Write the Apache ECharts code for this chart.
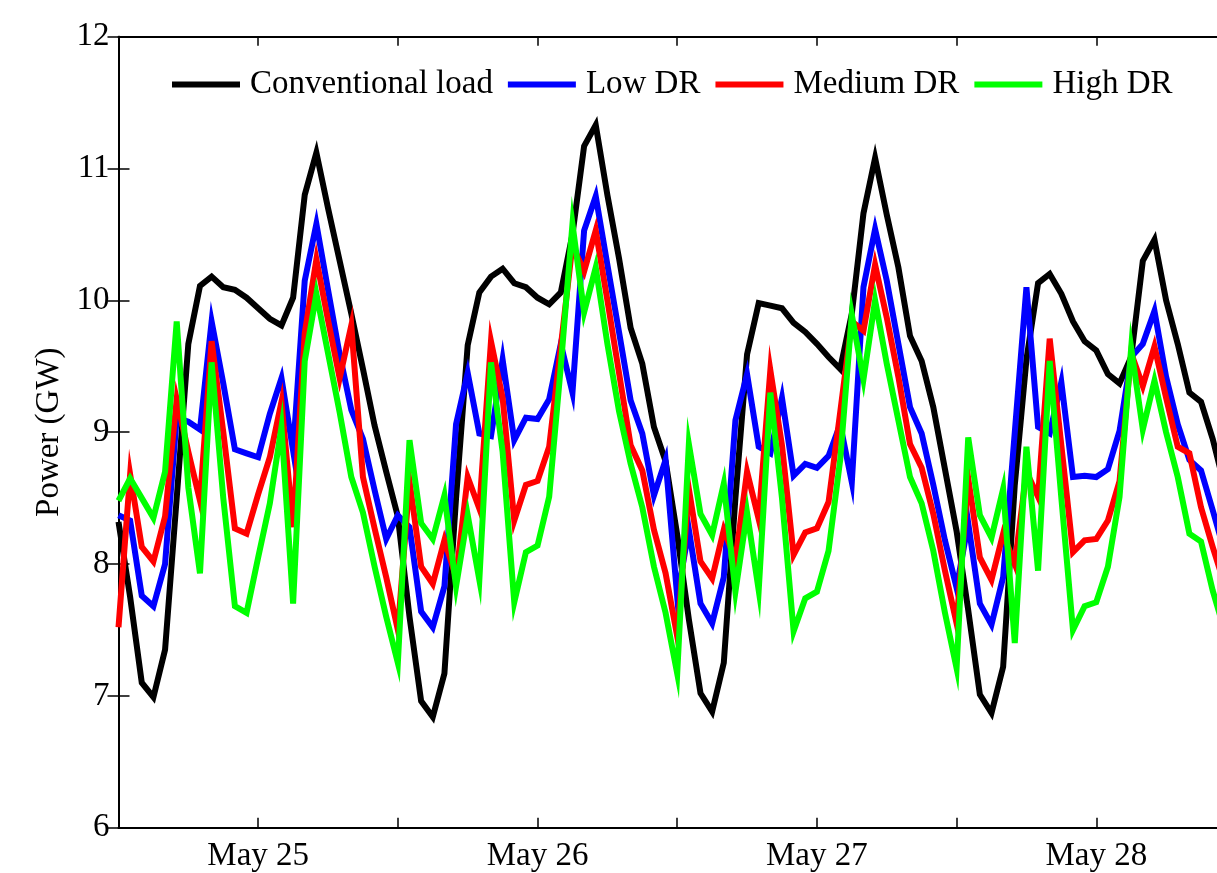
<!DOCTYPE html>
<html>
<head>
<meta charset="utf-8">
<script src="https://cdn.jsdelivr.net/npm/echarts@6/dist/echarts.min.js"></script>
<style>
html,body{margin:0;padding:0;background:#fff;overflow:hidden;width:1217px;height:873px;}
#chart{position:absolute;left:0;top:0;width:1240px;height:873px;}
</style>
</head>
<body>
<div id="chart"></div>
<script>
// Hourly values starting May 24 12:00 (hour 0) to May 28 11:00 (hour 95)
const conventional = [
  8.32,7.75,7.10,6.99,7.35,8.50,9.67,10.11,10.18,10.10,10.08,10.02,9.94,9.86,9.81,10.02,10.80,11.12,10.70,10.30,9.90,9.48,9.05,8.70,
  8.36,7.60,6.96,6.84,7.17,8.50,9.66,10.06,10.18,10.24,10.13,10.10,10.02,9.97,10.06,10.50,11.17,11.33,10.80,10.32,9.79,9.52,9.04,8.78,
  8.22,7.58,7.02,6.88,7.25,8.50,9.59,9.98,9.96,9.94,9.83,9.76,9.67,9.57,9.48,9.90,10.66,11.08,10.65,10.25,9.73,9.54,9.19,8.72,
  8.25,7.65,7.01,6.87,7.22,8.60,9.55,10.13,10.20,10.05,9.84,9.69,9.62,9.44,9.37,9.57,10.30,10.46,10.00,9.67,9.30,9.23,8.95,8.60
];
const lowDR = [
  8.37,8.33,7.76,7.68,8.00,9.11,9.08,9.02,9.84,9.37,8.87,8.84,8.81,9.14,9.41,8.86,10.15,10.58,10.08,9.59,9.17,8.95,8.56,8.19,
  8.37,8.28,7.64,7.52,7.83,9.06,9.45,8.99,8.97,9.55,8.94,9.11,9.10,9.25,9.67,9.30,10.53,10.79,10.27,9.76,9.24,8.99,8.52,8.79,
  7.75,8.26,7.70,7.55,7.90,9.09,9.44,8.89,8.84,9.26,8.67,8.76,8.73,8.82,9.06,8.62,10.10,10.54,10.15,9.67,9.19,8.99,8.60,8.18,
  7.82,8.31,7.70,7.54,7.90,9.00,10.10,9.04,8.99,9.38,8.66,8.67,8.66,8.72,9.01,9.57,9.67,9.92,9.42,9.06,8.79,8.71,8.41,8.10
];
const mediumDR = [
  7.52,8.68,8.13,8.02,8.36,9.25,8.85,8.48,9.69,9.00,8.27,8.23,8.53,8.81,9.23,8.28,9.75,10.31,9.85,9.41,9.81,8.66,8.27,7.90,
  7.50,8.63,7.98,7.85,8.18,7.90,8.66,8.42,9.69,9.26,8.33,8.60,8.63,8.89,9.65,10.42,10.22,10.53,10.00,9.45,8.90,8.71,8.26,7.93,
  7.45,8.57,8.02,7.89,8.26,8.03,8.70,8.34,9.47,8.90,8.07,8.24,8.27,8.47,9.15,9.84,9.77,10.27,9.87,9.42,8.91,8.73,8.38,7.95,
  7.55,8.65,8.05,7.88,8.23,8.00,8.70,8.51,9.71,8.90,8.09,8.18,8.19,8.33,8.63,9.60,9.35,9.65,9.26,8.89,8.84,8.43,8.13,7.85
];
const highDR = [
  8.48,8.65,8.50,8.35,8.70,9.84,8.58,7.93,9.53,8.50,7.68,7.63,8.05,8.46,9.04,7.70,9.54,10.05,9.60,9.15,8.66,8.39,7.98,7.60,
  7.25,8.94,8.31,8.19,8.52,7.83,8.37,7.88,9.53,8.85,7.71,8.09,8.14,8.51,9.50,10.58,9.91,10.25,9.67,9.16,8.76,8.43,7.98,7.63,
  7.17,8.91,8.38,8.22,8.61,7.79,8.39,7.80,9.30,8.50,7.49,7.74,7.79,8.10,8.79,9.89,9.40,10.00,9.52,9.09,8.66,8.46,8.10,7.63,
  7.21,8.96,8.37,8.20,8.57,7.40,8.89,7.95,9.54,8.50,7.50,7.68,7.71,7.98,8.51,9.64,9.02,9.39,9.00,8.66,8.23,8.17,7.80,7.50
];
const seriesNames = ['Conventional load','Low DR','Medium DR','High DR'];
const seriesColors = ['#000000','#0000ff','#ff0000','#00ff00'];
const labelHours = [12,36,60,84];
const labelTexts = ['May 25','May 26','May 27','May 28'];

const FONT = 'Liberation Serif, Times New Roman, serif';
const toPairs = arr => arr.map((v,i)=>[i,v]);
const allData = [conventional, lowDR, mediumDR, highDR];

const chart = echarts.init(document.getElementById('chart'), null, {renderer:'canvas'});
const axisLine = {show:true, lineStyle:{color:'#000', width:2}};
const xLabelFmt = v => { const k = labelHours.indexOf(v); return k >= 0 ? labelTexts[k] : ''; };

chart.setOption({
  animation:false,
  backgroundColor:'#fff',
  grid:{left:118.5, right:15.7, top:36.7, bottom:45.3, containLabel:false},
  legend:{
    left:172, top:68, padding:0, itemGap:15, itemWidth:68, itemHeight:6,
    icon:'rect',
    textStyle:{fontSize:33, fontFamily:FONT, color:'#000', padding:[0,0,0,5]},
    data:seriesNames
  },
  xAxis:[{
    type:'value', min:0, max:95, interval:12, position:'bottom',
    axisLine:axisLine,
    axisTick:{show:true, inside:true, length:10, lineStyle:{color:'#000', width:1.5}},
    axisLabel:{show:true, formatter:xLabelFmt, fontSize:33, fontFamily:FONT, color:'#000', margin:12, showMinLabel:true, showMaxLabel:true},
    splitLine:{show:false}
  },{
    type:'value', min:0, max:95, interval:12, position:'top',
    axisLine:axisLine,
    axisTick:{show:true, inside:true, length:9, lineStyle:{color:'#000', width:1.5}},
    axisLabel:{show:false}, splitLine:{show:false}
  }],
  yAxis:[{
    type:'value', min:6, max:12, interval:1, position:'left',
    name:'Power (GW)', nameLocation:'middle', nameGap:52,
    nameTextStyle:{fontSize:33, fontFamily:FONT, color:'#000'},
    axisLine:axisLine,
    axisTick:{show:true, inside:true, length:11, lineStyle:{color:'#000', width:1.5}},
    axisLabel:{fontSize:33, fontFamily:FONT, color:'#000', margin:9, showMinLabel:true, showMaxLabel:true},
    splitLine:{show:false}
  },{
    type:'value', min:6, max:12, interval:1, position:'right',
    axisLine:axisLine,
    axisTick:{show:true, inside:true, length:11, lineStyle:{color:'#000', width:1.5}},
    axisLabel:{show:false}, splitLine:{show:false}
  }],
  series: allData.map((d,k)=>({
    name:seriesNames[k], type:'line', data:toPairs(d),
    xAxisIndex:0, yAxisIndex:0,
    showSymbol:false, symbol:'none',
    lineStyle:{color:seriesColors[k], width:6, join:'miter'},
    itemStyle:{color:seriesColors[k]},
    emphasis:{disabled:true},
    z:2+k
  }))
});
</script>
</body>
</html>
